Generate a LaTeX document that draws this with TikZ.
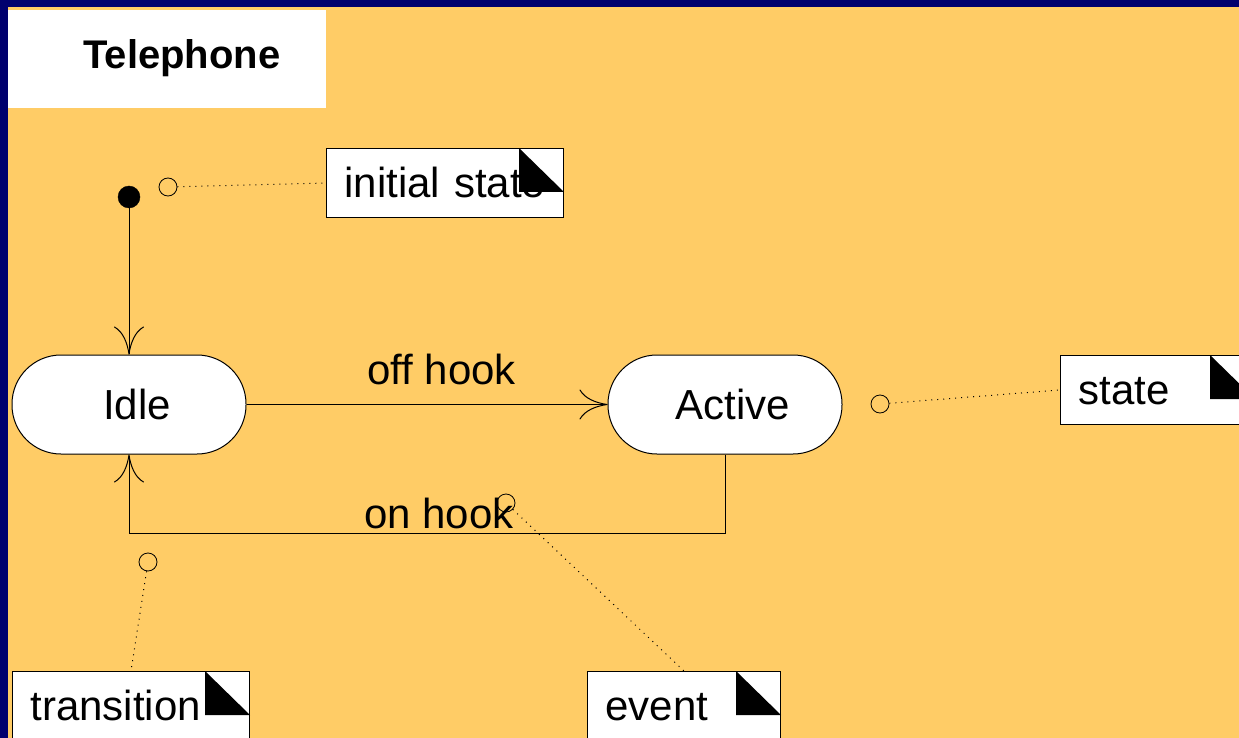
\documentclass[tikz,border=0pt]{standalone}
\usepackage{fontspec}
\setmainfont{Liberation Sans}
\usetikzlibrary{arrows.meta}
\definecolor{frame}{RGB}{0,0,110}
\definecolor{sand}{RGB}{255,204,102}
\begin{document}
\begin{tikzpicture}[x=1pt, y=-1pt,
  >={Computer Modern Rightarrow[length=28pt,width=30pt]},
  lbl/.style={font=\fontsize{42}{50}\selectfont, text height=29pt, text depth=0pt},
  state/.style={lbl, draw, fill=white, line width=1pt, rectangle, rounded corners=49pt,
    minimum width=234pt, minimum height=99pt, inner sep=0pt,
    execute at begin node=\hspace*{16pt}},
  memo/.style={lbl, draw, fill=white, line width=1pt, anchor=north west, minimum height=69pt,
    inner xsep=18pt, inner ysep=0pt, align=left, text width=#1},
  pin/.style={draw, circle, line width=0.8pt, minimum size=18pt, inner sep=0pt},
  trans/.style={line width=1pt, ->},
  dots/.style={line width=1pt, dash pattern=on 1pt off 5pt}]
\useasboundingbox (0,0) rectangle (1239,738);
\clip (0,0) rectangle (1239,738);
\fill[frame] (0,0) rectangle (1239,738);
\fill[sand] (8,7) rectangle (1239,738);
%
\node[fill=white, anchor=north west, inner sep=0pt, minimum width=318pt, minimum height=98pt] (titlebox) at (8,10) {};
\node[font=\bfseries\fontsize{40}{48}\selectfont] (title) at (182,58) {Telephone};

% states
\node[draw, circle, fill=black, minimum size=22pt, inner sep=0pt] (start) at (129,197) {};
\node[state] (idle) at (129,404.5) {Idle};
\node[state] (active) at (725,404.5) {Active};

\draw[trans] (start) -- (idle);
\draw[trans] (idle) -- node[pos=.54, above=20pt, inner sep=0pt, lbl] (offhook) {off hook} (active);
\draw[trans] (active.south) -- ++(0,78.5) -| node[pos=.24, above=4pt, inner sep=0pt, lbl] (onhook) {on hook} (idle.south);

% notes
\node[memo=201pt] (startnote) at (326,148) {initial state};
\node[memo=158pt] (statenote) at (1060,355) {state};
\node[memo=201pt] (trannote) at (12,671) {transition};
\node[memo=157pt] (eventnote) at (587,671) {event};
\fill (startnote.north east) ++(-45,0) -- ++(0,44) -- ++(45,0) -- cycle;
\fill (statenote.north east) ++(-45,0) -- ++(0,44) -- ++(45,0) -- cycle;
\fill (trannote.north east) ++(-45,0) -- ++(0,44) -- ++(45,0) -- cycle;
\fill (eventnote.north east) ++(-45,0) -- ++(0,44) -- ++(45,0) -- cycle;

\node[pin] (startpin) at (168,187) {};
\node[pin] (statepin) at (880,404) {};
\node[pin] (tranpin) at (148,562) {};
\node[pin] (eventpin) at (506,503) {};
\draw[dots] (startpin) -- (startnote.west);
\draw[dots] (statepin) -- (statenote.west);
\draw[dots] (tranpin) -- (trannote.north);
\draw[dots] (eventpin) -- (eventnote.north);
\end{tikzpicture}
\end{document}
